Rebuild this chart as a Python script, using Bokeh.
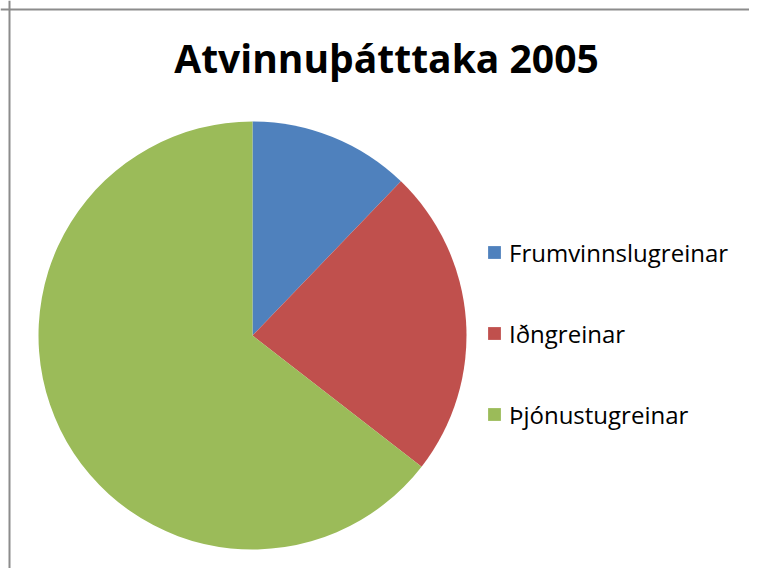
import math
from bokeh.plotting import figure
from bokeh.models import ColumnDataSource, Legend, LegendItem, Label, Span, Range1d
from bokeh.embed import file_html
from bokeh.resources import INLINE

# ---- data ----
categories = ["Frumvinnslugreinar", "Iðngreinar", "Þjónustugreinar"]
shares = [12.2, 23.3, 64.5]
colors = ["#4F81BD", "#C0504D", "#9BBB59"]
title_text = "Atvinnuþátttaka 2005"

W, H = 749, 568
total = sum(shares)
starts, ends = [], []
cum = 0.0
for v in shares:
    a0 = cum / total
    cum += v
    a1 = cum / total
    # clockwise from 12 o'clock
    starts.append(math.pi / 2 - 2 * math.pi * a1)
    ends.append(math.pi / 2 - 2 * math.pi * a0)

cx, cy, radius = 252, 233, 214
src = ColumnDataSource(dict(name=categories, value=shares, start=starts, end=ends,
                            color=colors, cx=[cx] * 3, cy=[cy] * 3))

p = figure(width=W, height=H, output_backend="svg", toolbar_location=None,
           x_range=Range1d(0, W), y_range=Range1d(0, H), min_border=0)
p.axis.visible = False
p.grid.visible = False
p.outline_line_color = None
p.background_fill_color = "white"
p.border_fill_color = "white"

r = p.wedge(x="cx", y="cy", radius=radius, radius_units="screen",
            start_angle="start", end_angle="end", fill_color="color",
            line_color=None, source=src)

# chart frame (only top and left edges visible in the crop)
p.add_layout(Span(location=9, dimension="height", line_color="#8c8c8c", line_width=2))
p.add_layout(Span(location=H - 9, dimension="width", line_color="#8c8c8c", line_width=2))

p.add_layout(Label(x=386, y=511, text=title_text, text_align="center",
                   text_baseline="alphabetic", text_font="Open Sans",
                   text_font_style="bold", text_font_size="39px", text_color="black"))

items = [LegendItem(label=categories[i], renderers=[r], index=i) for i in range(3)]
legend = Legend(items=items, location=(486, 137), orientation="vertical",
                glyph_width=16, glyph_height=16, label_height=34, label_standoff=7,
                spacing=47, padding=0, margin=0, border_line_color=None,
                background_fill_alpha=0, label_text_font="Open Sans",
                label_text_font_size="24px", label_text_color="black")
p.add_layout(legend)

open("out.html", "w").write(file_html(p, INLINE))
